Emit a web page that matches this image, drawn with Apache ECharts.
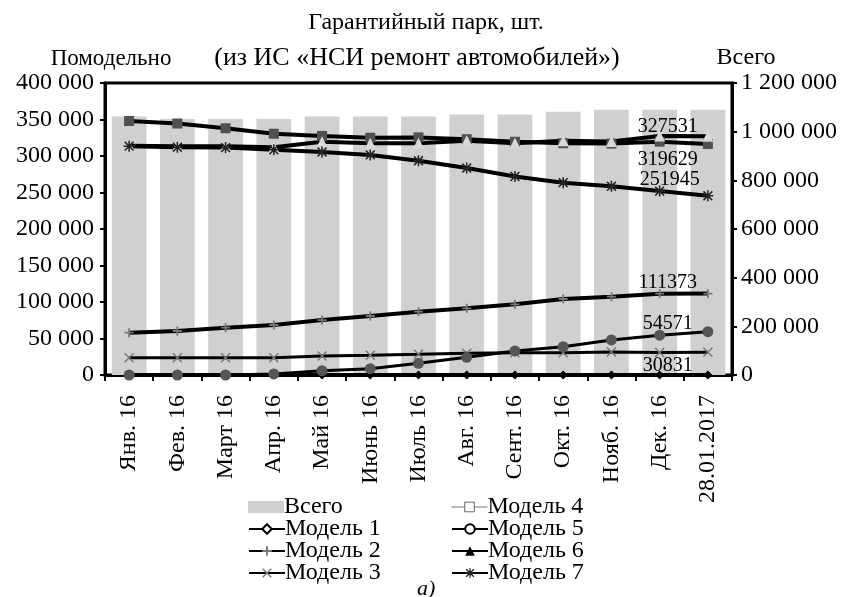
<!DOCTYPE html>
<html>
<head>
<meta charset="utf-8">
<script src="https://cdn.jsdelivr.net/npm/echarts@6/dist/echarts.min.js"></script>
<style>
  html, body { margin: 0; padding: 0; background: #fff; }
  #chart { width: 847px; height: 597px; }
</style>
</head>
<body>
<div id="chart"></div>
<script>
// months on the x axis
var months = ["Янв. 16", "Фев. 16", "Март 16", "Апр. 16", "Май 16", "Июнь 16", "Июль 16",
  "Авг. 16", "Сент. 16", "Окт. 16", "Нояб. 16", "Дек. 16", "28.01.2017"];

// total park (right axis)
var total = [1062000, 1052000, 1052000, 1052000, 1062000, 1062000, 1062000, 1071000, 1071000, 1082000, 1090000, 1090000, 1090000];

// per model (left axis)
var model1 = [0, 0, 0, 0, 0, 0, 0, 0, 0, 0, 0, 0, 0];
var model2 = [58000, 60300, 64800, 68500, 75300, 80800, 86700, 91400, 96800, 104100, 107300, 111373, 111500];
var model3 = [23700, 23700, 23700, 23700, 26000, 27000, 28300, 29700, 30500, 30500, 31500, 30831, 31000];
var model4 = [348000, 344500, 338000, 330500, 327500, 325000, 325500, 323000, 319500, 317500, 317000, 319629, 316500];
var model5 = [0, 0, 0, 1500, 5900, 8600, 16000, 24200, 32900, 38800, 48000, 54571, 59300];
var model6 = [314000, 313500, 313500, 312000, 319500, 317500, 317500, 321000, 317500, 321000, 320000, 327531, 327000];
var model7 = [313500, 312000, 311500, 308500, 305500, 301500, 293500, 283500, 272000, 263500, 258500, 251945, 245500];

var leftTicks = { min: 0, max: 400000, interval: 50000 };
var rightTicks = { min: 0, max: 1200000, interval: 200000 };

var FONT = "Liberation Serif";

var PLUS = "path://M4,0L6,0L6,4L10,4L10,6L6,6L6,10L4,10L4,6L0,6L0,4L4,4Z";
var CROSS = "path://M0,1L1,0L5,4L9,0L10,1L6,5L10,9L9,10L5,6L1,10L0,9L4,5Z";
var STAR = "path://M4.3,0L5.7,0L5.7,4.3L10,4.3L10,5.7L5.7,5.7L5.7,10L4.3,10L4.3,5.7L0,5.7L0,4.3L4.3,4.3Z" +
  "M0.5,1.5L1.5,0.5L5,4L8.5,0.5L9.5,1.5L6,5L9.5,8.5L8.5,9.5L5,6L1.5,9.5L0.5,8.5L4,5Z";

function fmt(v) {
  return String(v).replace(/\B(?=(\d{3})+(?!\d))/g, " ");
}

// data label only on the December point
function decLabel(pos, off) {
  return {
    show: true,
    position: pos,
    offset: off,
    distance: 6,
    fontFamily: FONT,
    fontSize: 20,
    color: "#000",
    formatter: function (p) {
      return p.dataIndex === 11 ? String(p.value) : "";
    }
  };
}

function lineSeries(name, data, symbol, size, color, width, label) {
  var s = {
    name: name,
    type: "line",
    yAxisIndex: 0,
    data: data,
    symbol: symbol,
    symbolSize: size,
    showAllSymbol: true,
    lineStyle: { color: "#000", width: width },
    itemStyle: { color: color, borderColor: color, borderWidth: 0 },
    emphasis: { disabled: true },
    animation: false,
    z: 3
  };
  if (label) s.label = label;
  return s;
}

// one legend box per entry, placed on a 2-column grid
function legendItem(item, left, top) {
  return {
    orient: "horizontal", left: left, top: top, padding: 0,
    itemWidth: 36, itemHeight: 12,
    textStyle: { fontFamily: FONT, fontSize: 24, color: "#000", padding: [0, 0, 0, -5] },
    data: [item]
  };
}

var titleStyle = { fontFamily: FONT, fontSize: 24, fontWeight: "normal", color: "#000" };

var chart = echarts.init(document.getElementById("chart"));

var option = {
  animation: false,
  textStyle: { fontFamily: FONT },
  title: [
    { text: "Гарантийный парк, шт.", left: 421, top: 6, textAlign: "center", textStyle: titleStyle },
    { text: "(из ИС «НСИ ремонт автомобилей»)", left: 412, top: 40, textAlign: "center",
      textStyle: { fontFamily: FONT, fontSize: 26, fontWeight: "normal", color: "#000" } },
    { text: "Помодельно", left: 106, top: 42, textAlign: "center",
      textStyle: { fontFamily: FONT, fontSize: 23, fontWeight: "normal", color: "#000" } },
    { text: "Всего", left: 741, top: 41, textAlign: "center", textStyle: titleStyle },
    { text: "a)", left: 412, top: 573,
      textStyle: { fontFamily: FONT, fontSize: 22, fontStyle: "italic", fontWeight: "normal", color: "#000" } }
  ],
  legend: [
    legendItem({ name: "Всего", icon: "rect" }, 248, 495),
    legendItem({ name: "Модель 1", itemStyle: { color: "#fff", borderColor: "#000", borderWidth: 2 } }, 248, 517),
    legendItem({ name: "Модель 2" }, 248, 539),
    legendItem({ name: "Модель 3" }, 248, 561),
    legendItem({ name: "Модель 4", itemStyle: { color: "#fff", borderColor: "#666", borderWidth: 1 },
      lineStyle: { color: "#777", width: 1 } }, 451, 495),
    legendItem({ name: "Модель 5", itemStyle: { color: "#fff", borderColor: "#000", borderWidth: 2 } }, 451, 517),
    legendItem({ name: "Модель 6", itemStyle: { color: "#000", borderColor: "#000" } }, 451, 539),
    legendItem({ name: "Модель 7" }, 451, 561)
  ],
  grid: { left: 105, right: 115, top: 83, bottom: 222, show: true, borderColor: "#000", borderWidth: 3 },
  xAxis: {
    type: "category",
    data: months,
    boundaryGap: true,
    axisLine: { lineStyle: { color: "#000", width: 3 } },
    axisTick: { show: true, length: 6, lineStyle: { color: "#000", width: 2 } },
    axisLabel: { rotate: 90, margin: 20, fontFamily: FONT, fontSize: 24, color: "#000", interval: 0 }
  },
  yAxis: [
    {
      type: "value", min: leftTicks.min, max: leftTicks.max, interval: leftTicks.interval,
      splitLine: { show: false },
      axisLine: { show: true, lineStyle: { color: "#000", width: 3 } },
      axisTick: { show: true, length: 5, lineStyle: { color: "#000", width: 2 } },
      axisLabel: { fontFamily: FONT, fontSize: 24, color: "#000", margin: 11, formatter: fmt }
    },
    {
      type: "value", min: rightTicks.min, max: rightTicks.max, interval: rightTicks.interval,
      position: "right",
      splitLine: { show: false },
      axisLine: { show: true, lineStyle: { color: "#000", width: 3 } },
      axisTick: { show: true, length: 5, lineStyle: { color: "#000", width: 2 } },
      axisLabel: { fontFamily: FONT, fontSize: 24, color: "#000", margin: 9, formatter: fmt }
    }
  ],
  series: [
    {
      name: "Всего", type: "bar", yAxisIndex: 1, data: total, barWidth: "72%",
      itemStyle: { color: "#d0d0d0" }, emphasis: { disabled: true }, z: 1
    },
    lineSeries("Модель 1", model1, "diamond", 9, "#000", 4, null),
    lineSeries("Модель 2", model2, PLUS, 9, "#777", 4, decLabel("top", [8, 10])),
    lineSeries("Модель 3", model3, CROSS, 10, "#777", 3, decLabel("bottom", [8, -8])),
    lineSeries("Модель 4", model4, "rect", 10, "#505050", 4, decLabel("bottom", [8, -3])),
    lineSeries("Модель 5", model5, "circle", 11, "#555", 3, decLabel("top", [8, 10])),
    lineSeries("Модель 6", model6, "triangle", 11, "#d8d8d8", 4, decLabel("top", [8, 12])),
    lineSeries("Модель 7", model7, STAR, 11, "#222", 4, decLabel("top", [10, 10]))
  ]
};

chart.setOption(option);
</script>
</body>
</html>
